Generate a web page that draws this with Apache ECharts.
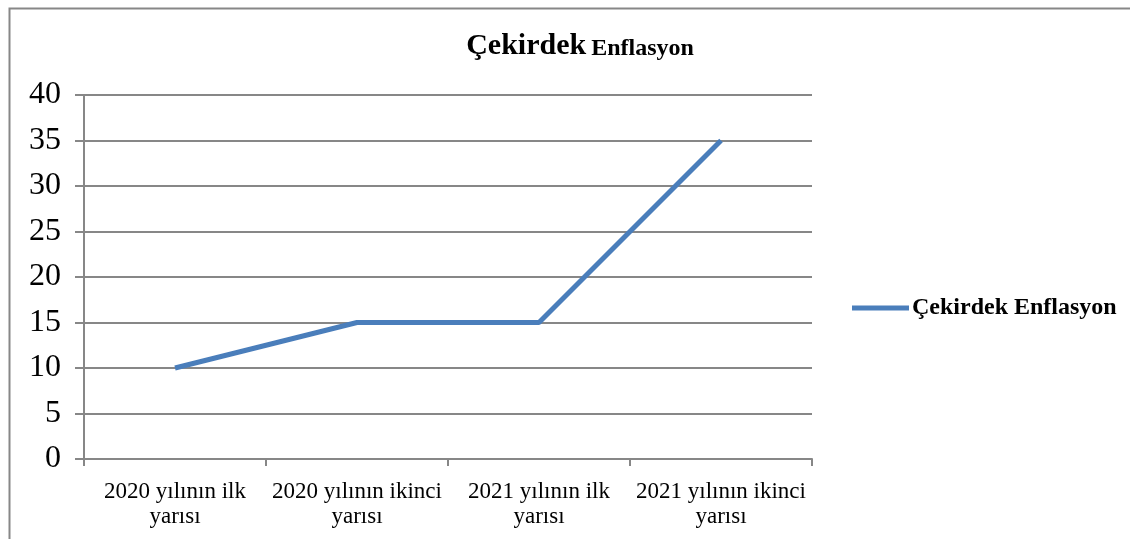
<!DOCTYPE html>
<html>
<head>
<meta charset="utf-8">
<script src="https://cdn.jsdelivr.net/npm/echarts@6/dist/echarts.min.js"></script>
<style>
  html, body { margin: 0; padding: 0; background: #fff; }
  #chart { width: 1130px; height: 539px; }
</style>
</head>
<body>
<div id="chart"></div>
<script>
const categories = ['2020 yılının ilk\nyarısı', '2020 yılının ikinci\nyarısı', '2021 yılının ilk\nyarısı', '2021 yılının ikinci\nyarısı'];
const coreInflation = [10, 15, 15, 35];
const seriesName = 'Çekirdek Enflasyon';

const gray = '#878787';
const blue = '#4a7ebb';
const serif = '"Liberation Serif", "DejaVu Serif", serif';

const myChart = echarts.init(document.getElementById('chart'));
myChart.setOption({
  animation: false,
  graphic: [{
    type: 'rect',
    left: 7, top: 6,
    shape: { width: 1140, height: 560 },
    style: { fill: 'none', stroke: gray, lineWidth: 2 }
  }],
  title: {
    text: '{a|Çekirdek} {b|Enflasyon}',
    left: 575, top: 26,
    textAlign: 'center',
    textStyle: {
      rich: {
        a: { fontFamily: serif, fontWeight: 'bold', fontSize: 30, color: '#000', verticalAlign: 'bottom' },
        b: { fontFamily: serif, fontWeight: 'bold', fontSize: 24, color: '#000', verticalAlign: 'bottom' }
      }
    }
  },
  legend: {
    left: 852, top: 296,
    padding: 0,
    itemWidth: 57, itemHeight: 5,
    itemGap: 4,
    icon: 'rect',
    textStyle: { fontFamily: serif, fontWeight: 'bold', fontSize: 24, color: '#000', padding: [0, 0, 0, -2] },
    data: [seriesName]
  },
  grid: { left: 84, top: 95, width: 728, height: 364 },
  xAxis: {
    type: 'category',
    data: categories,
    boundaryGap: true,
    axisLine: { lineStyle: { color: gray, width: 2 } },
    axisTick: { show: true, length: 7, lineStyle: { color: gray, width: 2 } },
    axisLabel: { fontFamily: serif, fontSize: 23, color: '#000', margin: 20, lineHeight: 25, interval: 0 }
  },
  yAxis: {
    type: 'value',
    min: 0, max: 40, interval: 5,
    axisLine: { show: true, lineStyle: { color: gray, width: 2 } },
    axisTick: { show: true, length: 9, lineStyle: { color: gray, width: 2 } },
    axisLabel: { fontFamily: serif, fontSize: 32, color: '#000', margin: 23 },
    splitLine: { lineStyle: { color: gray, width: 2 } }
  },
  series: [{
    name: seriesName,
    type: 'line',
    data: coreInflation,
    showSymbol: false,
    symbol: 'none',
    color: blue,
    lineStyle: { color: blue, width: 5 }
  }]
});
</script>
</body>
</html>
